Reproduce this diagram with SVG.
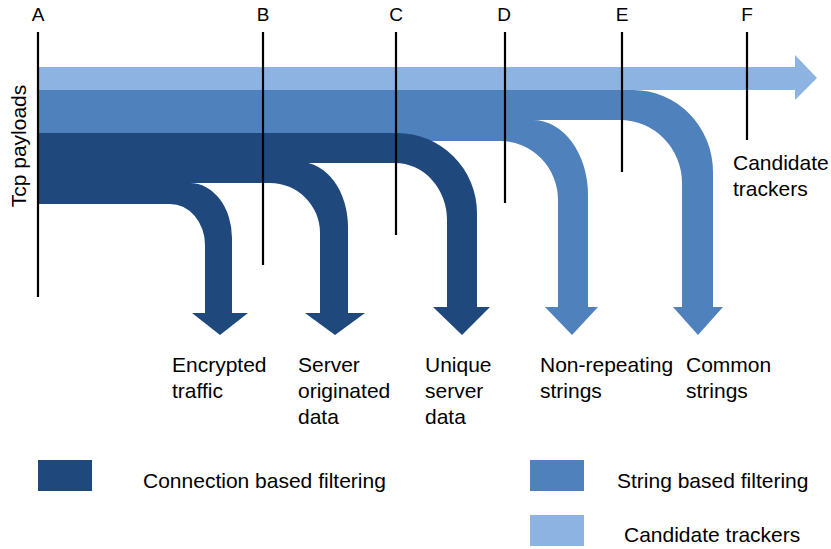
<svg xmlns="http://www.w3.org/2000/svg" width="831" height="549" viewBox="0 0 831 549">
<style>
.dark{fill:#1f497d}
.mid{fill:#4f81bd}
.light{fill:#8db3e2}
.axis{stroke:#000;stroke-width:2.2;fill:none}
.lbl{font-family:"Liberation Sans",Arial,sans-serif;font-size:19px;fill:#000;text-anchor:middle}
.txt{font-family:"Liberation Sans",Arial,sans-serif;font-size:21px;fill:#000}
</style>
<rect width="831" height="549" fill="#fff"/>
<g id="connectors">
<g id="flow-candidate">
<path class="light" d="M38,67 H795 V55 L817,78 L795,100 V90 H38 Z"/>
</g>
<g id="flow-common">
<path class="mid" d="M38,90 H633 A80,82 0 0 1 713,172 V307 H723 L698,335 L673,307 H682 V183 A62,63 0 0 0 620,120 H38 Z"/>
</g>
<g id="flow-nonrepeating">
<path class="mid" d="M38,120 H533 A55,75 0 0 1 588,195 V307 H598 L572,335 L545,307 H558 V200 A58,59 0 0 0 500,141 H38 Z"/>
</g>
<g id="flow-unique">
<path class="dark" d="M38,133 H397 A80,80 0 0 1 477,213 V307 H490 L462,335 L433,307 H447 V220 A52,57 0 0 0 395,163 H38 Z"/>
</g>
<g id="flow-server">
<path class="dark" d="M38,162 H300 A48,65 0 0 1 348,227 V313 H365 L335,335 L305,313 H320 V233 A50,50 0 0 0 270,183 H38 Z"/>
</g>
<g id="flow-encrypted">
<path class="dark" d="M38,183 H190 A42,55 0 0 1 232,238 V313 H248 L220,335 L192,313 H205 V245 A35,41 0 0 0 170,204 H38 Z"/>
</g>
</g>
<g id="stage-A"><line class="axis" x1="38" y1="32" x2="38" y2="297"/><text class="lbl" x="38" y="21">A</text></g>
<g id="stage-B"><line class="axis" x1="263" y1="32" x2="263" y2="265"/><text class="lbl" x="263" y="21">B</text></g>
<g id="stage-C"><line class="axis" x1="396" y1="32" x2="396" y2="235"/><text class="lbl" x="396" y="21">C</text></g>
<g id="stage-D"><line class="axis" x1="505" y1="32" x2="505" y2="203"/><text class="lbl" x="504" y="21">D</text></g>
<g id="stage-E"><line class="axis" x1="622" y1="32" x2="622" y2="172"/><text class="lbl" x="622" y="21">E</text></g>
<g id="stage-F"><line class="axis" x1="747" y1="32" x2="747" y2="140"/><text class="lbl" x="747" y="21">F</text></g>
<g id="source-label"><text class="txt" transform="translate(26,146) rotate(-90)" text-anchor="middle" font-size="19">Tcp payloads</text></g>
<g id="label-candidate"><text class="txt" x="733" y="170">Candidate</text><text class="txt" x="733" y="196">trackers</text></g>
<g id="label-encrypted"><text class="txt" x="172" y="372">Encrypted</text><text class="txt" x="172" y="398">traffic</text></g>
<g id="label-server"><text class="txt" x="298" y="372">Server</text><text class="txt" x="298" y="398">originated</text><text class="txt" x="298" y="424">data</text></g>
<g id="label-unique"><text class="txt" x="425" y="372">Unique</text><text class="txt" x="425" y="398">server</text><text class="txt" x="425" y="424">data</text></g>
<g id="label-nonrepeating"><text class="txt" x="540" y="372">Non-repeating</text><text class="txt" x="540" y="398">strings</text></g>
<g id="label-common"><text class="txt" x="686" y="372">Common</text><text class="txt" x="686" y="398">strings</text></g>
<g id="legend">
<g id="legend-connection"><rect class="dark" x="38" y="460" width="54" height="31"/><text class="txt" x="143" y="488">Connection based filtering</text></g>
<g id="legend-string"><rect class="mid" x="530" y="460" width="54" height="31"/><text class="txt" x="617" y="488">String based filtering</text></g>
<g id="legend-candidate"><rect class="light" x="530" y="515" width="54" height="31"/><text class="txt" x="624" y="542">Candidate trackers</text></g>
</g>
</svg>
